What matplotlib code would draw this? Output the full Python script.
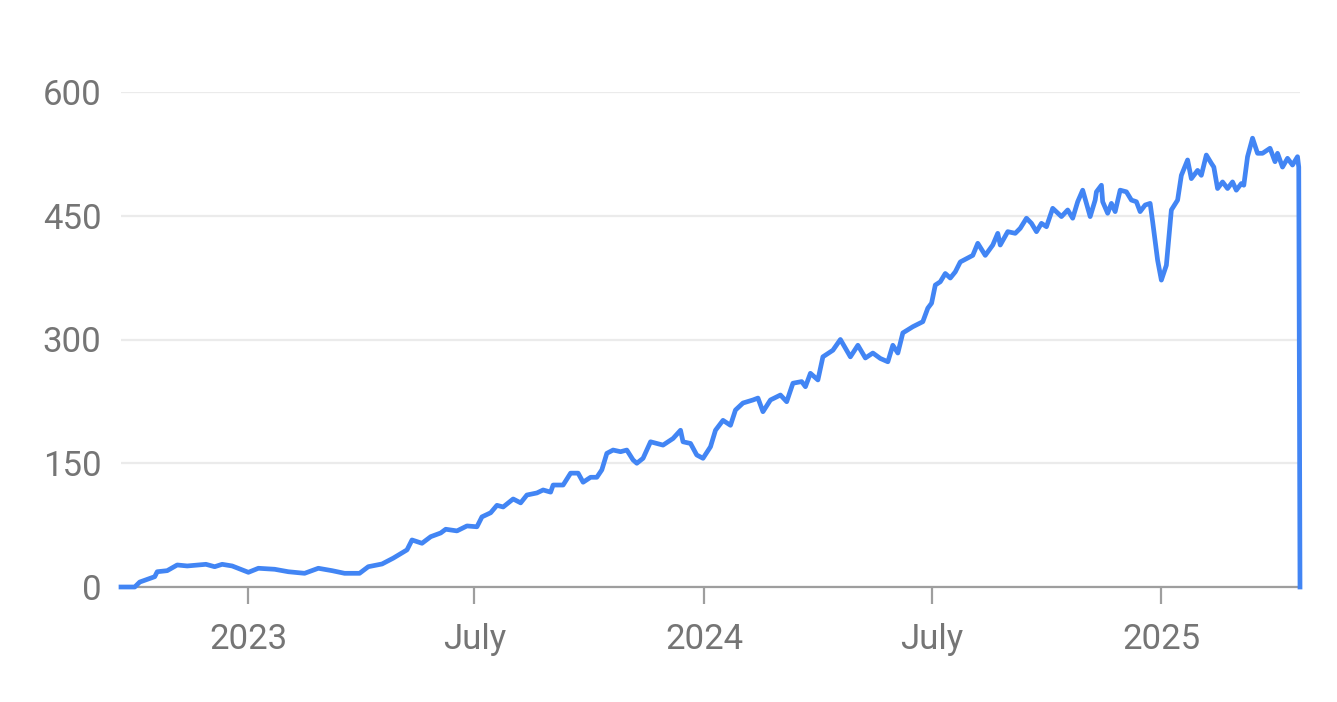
import matplotlib
matplotlib.use("Agg")
import matplotlib.pyplot as plt
import pandas as pd

dates = [
    "2022-09-21", "2022-10-02", "2022-10-06", "2022-10-18", "2022-10-20", "2022-10-28",
    "2022-11-05", "2022-11-13", "2022-11-28", "2022-12-05", "2022-12-11", "2022-12-19",
    "2023-01-01", "2023-01-09", "2023-01-22", "2023-02-02", "2023-02-15", "2023-02-26",
    "2023-03-09", "2023-03-19", "2023-03-31", "2023-04-07", "2023-04-18", "2023-04-27",
    "2023-05-08", "2023-05-12", "2023-05-20", "2023-05-27", "2023-06-04", "2023-06-08",
    "2023-06-17", "2023-06-25", "2023-07-03", "2023-07-07", "2023-07-14", "2023-07-19",
    "2023-07-24", "2023-08-01", "2023-08-07", "2023-08-12", "2023-08-20", "2023-08-25",
    "2023-08-31", "2023-09-02", "2023-09-10", "2023-09-16", "2023-09-22", "2023-09-26",
    "2023-10-02", "2023-10-07", "2023-10-11", "2023-10-15", "2023-10-20", "2023-10-26",
    "2023-10-31", "2023-11-05", "2023-11-08", "2023-11-13", "2023-11-19", "2023-11-29",
    "2023-12-07", "2023-12-13", "2023-12-15", "2023-12-21", "2023-12-26", "2023-12-31",
    "2024-01-06", "2024-01-10", "2024-01-16", "2024-01-22", "2024-01-26", "2024-02-01",
    "2024-02-09", "2024-02-13", "2024-02-17", "2024-02-23", "2024-03-02", "2024-03-07",
    "2024-03-12", "2024-03-19", "2024-03-22", "2024-03-26", "2024-04-01", "2024-04-05",
    "2024-04-13", "2024-04-19", "2024-04-27", "2024-05-03", "2024-05-09", "2024-05-15",
    "2024-05-21", "2024-05-27", "2024-05-31", "2024-06-04", "2024-06-08", "2024-06-16",
    "2024-06-24", "2024-06-28", "2024-07-01", "2024-07-04", "2024-07-08", "2024-07-12",
    "2024-07-16", "2024-07-20", "2024-07-24", "2024-07-30", "2024-08-03", "2024-08-07",
    "2024-08-13", "2024-08-19", "2024-08-23", "2024-08-25", "2024-08-31", "2024-09-06",
    "2024-09-10", "2024-09-15", "2024-09-19", "2024-09-23", "2024-09-27", "2024-10-01",
    "2024-10-06", "2024-10-13", "2024-10-18", "2024-10-22", "2024-10-26", "2024-10-30",
    "2024-11-05", "2024-11-09", "2024-11-10", "2024-11-14", "2024-11-15", "2024-11-19",
    "2024-11-22", "2024-11-25", "2024-11-29", "2024-12-04", "2024-12-08", "2024-12-12",
    "2024-12-15", "2024-12-19", "2024-12-23", "2024-12-25", "2024-12-29", "2025-01-01",
    "2025-01-05", "2025-01-09", "2025-01-14", "2025-01-17", "2025-01-22", "2025-01-25",
    "2025-01-30", "2025-02-02", "2025-02-06", "2025-02-10", "2025-02-12", "2025-02-15",
    "2025-02-19", "2025-02-23", "2025-02-27", "2025-03-02", "2025-03-06", "2025-03-08",
    "2025-03-11", "2025-03-15", "2025-03-19", "2025-03-23", "2025-03-29", "2025-04-02",
    "2025-04-04", "2025-04-08", "2025-04-12", "2025-04-16", "2025-04-20", "2025-04-21",
    "2025-04-22",
]

values = [
    0, 0, 6, 12.5, 18.5, 19.8,
    26.7, 25.5, 27.5, 24.6, 27.5, 25.5,
    17.8, 22.7, 21.5, 18.5, 16.6, 22.7,
    19.8, 16.6, 16.6, 24.6, 27.9, 35,
    45, 57, 53, 61, 65.5, 70,
    68, 74, 73, 85, 90, 99,
    97, 106.7, 102, 111.5, 114, 117.6,
    115, 123.6, 123.6, 138, 138, 127,
    133, 133, 142, 162, 166, 164,
    166, 154, 150, 156, 176, 172,
    180, 190, 176, 174, 160, 156,
    170, 190, 202, 196, 214.5, 223,
    226.7, 229, 212.5, 226.7, 232.7, 224.6,
    247, 249, 242.8, 259, 251, 279,
    287, 300, 279, 293, 277.6, 283.6,
    277, 273, 293, 283.6, 308, 315.5,
    321.6, 338, 344, 366, 370, 380,
    374.5, 382, 394, 398.8, 402, 416.6,
    402, 414.5, 428.7, 414.5, 430.7, 428.7,
    434.8, 447, 440.8, 430.7, 440.8, 436.7,
    459, 449, 457, 447, 467, 481,
    449, 469, 479, 487, 467, 453,
    465, 455, 481, 479, 469, 467,
    455, 463, 465, 443, 396, 372,
    390, 457, 469, 499, 517.6, 495,
    505, 499, 523.6, 513.6, 509, 483,
    491, 483, 491, 481, 489, 487,
    521.6, 544, 525.7, 525.7, 531.8, 515.5,
    525.7, 509, 519.6, 511.5, 521.6, 509,
    0,
]

x_ticks = ["2023-01-01", "2023-07-01", "2024-01-01", "2024-07-01", "2025-01-01"]
x_tick_labels = ["2023", "July", "2024", "July", "2025"]
y_ticks = [0, 150, 300, 450, 600]

plt.rcParams["font.family"] = ["Roboto", "DejaVu Sans"]

W, H = 1337, 702
fig = plt.figure(figsize=(W / 100, H / 100), dpi=100)
ax = fig.add_axes([121 / W, (H - 587) / H, (1300 - 121) / W, (587 - 92) / H])

d = pd.to_datetime(dates)
ax.plot(d, values, color="#4285F4", linewidth=3.4, solid_joinstyle="round",
        zorder=5, clip_on=False)

ax.set_xlim(pd.Timestamp("2022-09-21"), pd.Timestamp("2025-04-22"))
ax.set_ylim(0, 600)

ax.set_yticks(y_ticks)
ax.set_yticklabels([str(v) for v in y_ticks])
ax.set_xticks(pd.to_datetime(x_ticks))
ax.set_xticklabels(x_tick_labels)

ax.grid(axis="y", color="#ebebeb", linewidth=1.6, zorder=0)
ax.grid(axis="x", visible=False)
for s in ["top", "right", "left"]:
    ax.spines[s].set_visible(False)
ax.spines["bottom"].set_color("#9e9e9e")
ax.spines["bottom"].set_linewidth(1.6)
ax.spines["bottom"].set_zorder(4)

ax.tick_params(axis="y", length=0, pad=14, labelsize=25, labelcolor="#757575")
ax.tick_params(axis="x", length=12, width=1.6, color="#9e9e9e", pad=14,
               labelsize=25, labelcolor="#757575")

fig.savefig("out.png", dpi=100, facecolor="white")
